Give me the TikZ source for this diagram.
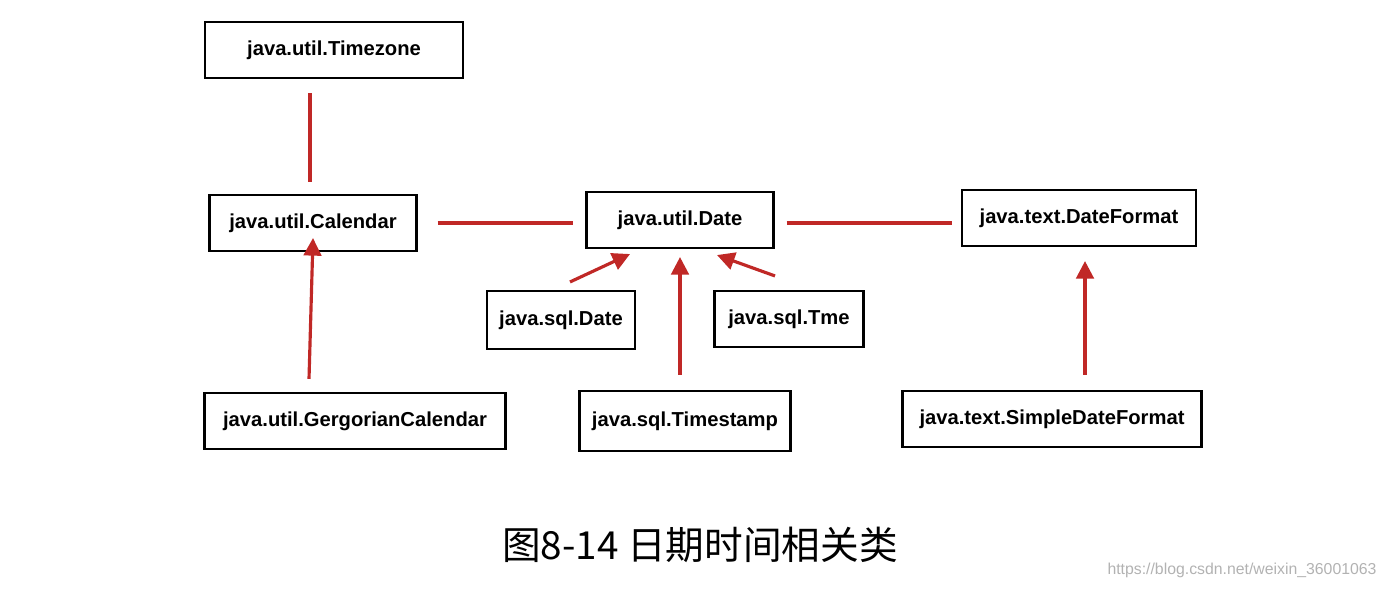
\documentclass[tikz,border=0pt]{standalone}
\usepackage{fontspec}
\setmainfont{Liberation Sans}
\newfontfamily\cjk{Noto Sans CJK SC}
\usetikzlibrary{calc,arrows.meta}
\definecolor{linkred}{RGB}{192,40,38}
\tikzset{%
  cls/.style  = {draw, line width=1.2pt, minimum height=1.12cm, inner sep=0pt,%
                 font=\fontsize{11.5}{13}\selectfont\bfseries},%
  link/.style = {draw=linkred, line width=1.8pt},%
  ext/.style  = {link, -{Triangle[length=10pt,width=10pt]}}%
}
\begin{document}
\begin{tikzpicture}[x=0.02cm, y=-0.02cm]
  \useasboundingbox (0,0) rectangle (1388,588);
  % classes
  \node[cls, minimum width=5.16cm] (tz)   at (334,50)  {java.util.Timezone};
  \node[cls, minimum width=4.14cm] (cal)  at (313,223) {java.util.Calendar};
  \node[cls, minimum width=3.74cm] (date) at (680,220) {java.util.Date};
  \node[cls, minimum width=4.68cm] (fmt)  at (1079,218) {java.text.DateFormat};
  \node[cls, minimum width=2.96cm, minimum height=1.16cm] (sqld) at (561,320) {java.sql.Date};
  \node[cls, minimum width=2.98cm] (sqlt) at (789,319) {java.sql.Tme};
  \node[cls, minimum width=4.22cm, minimum height=1.2cm] (stamp) at (685,421) {java.sql.Timestamp};
  \node[cls, minimum width=6.02cm] (greg) at (355,421) {java.util.GergorianCalendar};
  \node[cls, minimum width=5.98cm] (sdf)  at (1052,419) {java.text.SimpleDateFormat};
  % associations
  \draw[link] ($(tz.south)+(-24,14)$) -- ($(cal.north)+(-3,-12)$);
  \draw[link] ($(cal.east)+(20,0)$) -- ($(date.west)+(-12,3)$);
  \draw[link] ($(date.east)+(12,3)$) -- ($(fmt.west)+(-9,5)$);
  % subclasses
  \draw[ext] ($(greg.north)+(-46,-13)$) -- ($(cal.south)+(0,-14)$);
  \draw[ext] ($(sqld.north)+(9,-8)$) -- ($(date.south)+(-50,5)$);
  \draw[ext] ($(stamp.north)+(-5,-15)$) -- ($(date.south)+(0,8)$);
  \draw[ext] ($(sqlt.north)+(-14,-14)$) -- ($(date.south)+(37,6)$);
  \draw[ext] ($(sdf.north)+(33,-15)$) -- ($(fmt.south)+(6,14)$);
  % caption
  \node[font=\cjk\fontsize{22}{24}\selectfont] (cap) at (700,545) {图8-14 日期时间相关类};
  \node[font=\fontsize{9}{10}\selectfont, text=black!30] (mark) at (1242,570) {https://blog.csdn.net/weixin\_36001063};
\end{tikzpicture}
\end{document}
